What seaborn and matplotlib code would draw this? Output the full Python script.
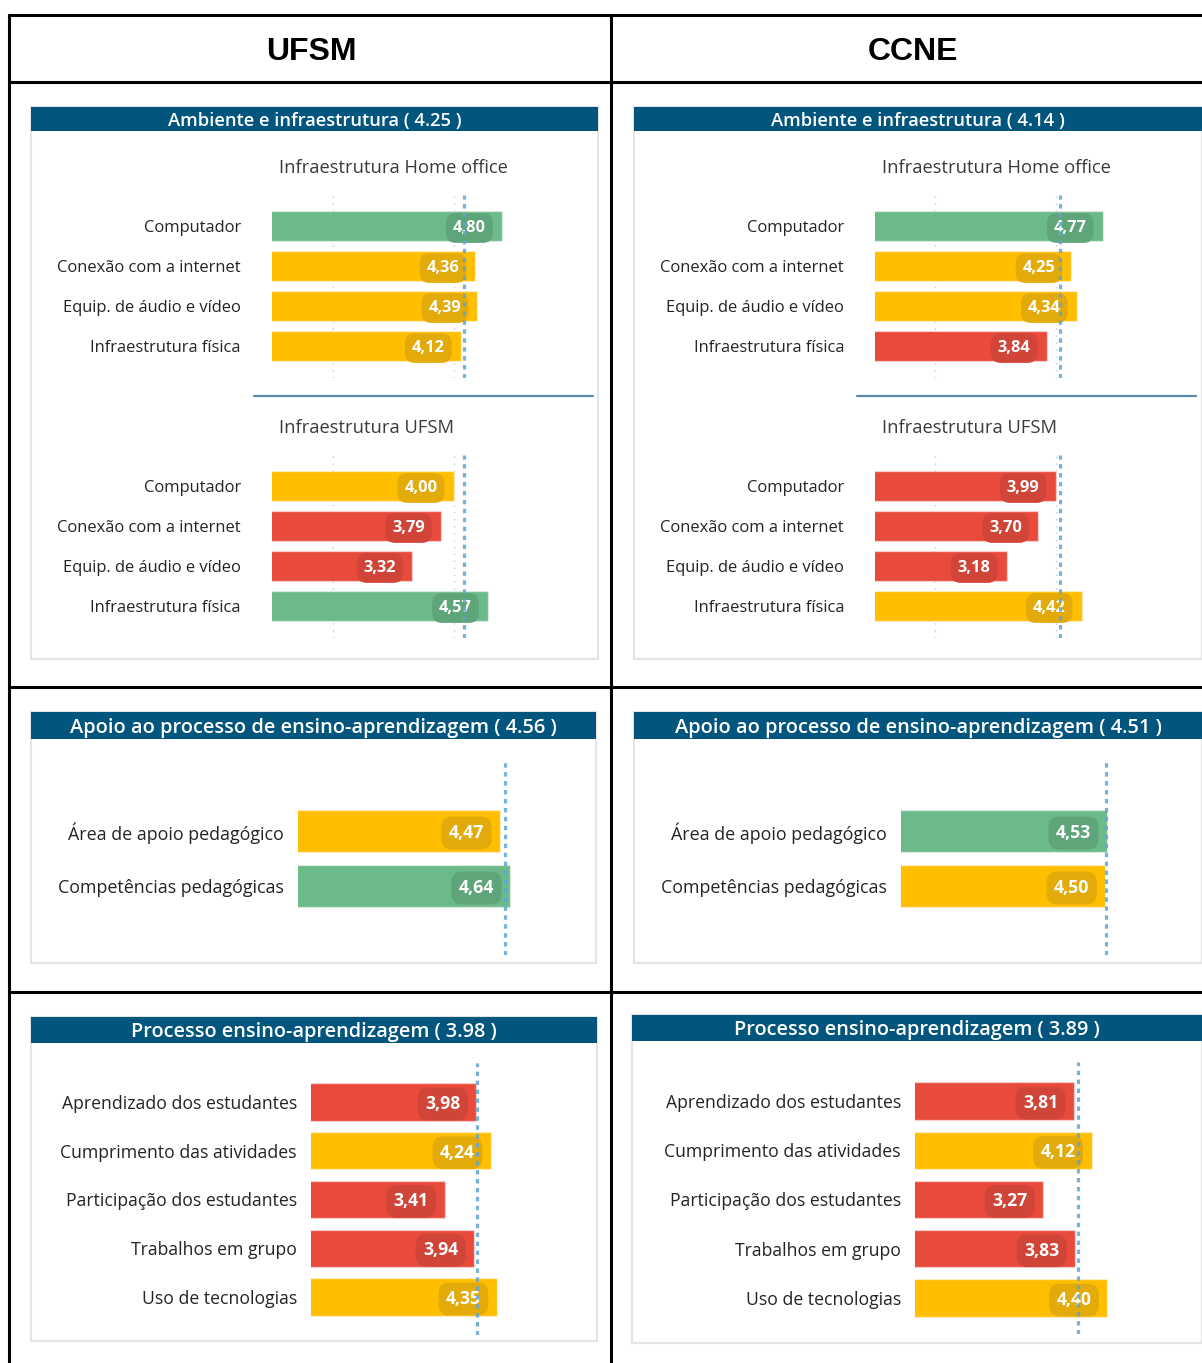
import numpy as np
import matplotlib
matplotlib.use("Agg")
import matplotlib.pyplot as plt
from matplotlib.patches import Rectangle
from matplotlib.lines import Line2D
import seaborn as sns

sns.set_theme(style="white")
plt.rcParams["font.family"] = ["Open Sans", "DejaVu Sans"]

# ---- data ----
columns = ["UFSM", "CCNE"]

home_labels = ["Computador", "Conexão com a internet", "Equip. de áudio e vídeo", "Infraestrutura física"]
ufsm_home = [4.80, 4.36, 4.39, 4.12]
ufsm_infra = [4.00, 3.79, 3.32, 4.57]
ccne_home = [4.77, 4.25, 4.34, 3.84]
ccne_infra = [3.99, 3.70, 3.18, 4.42]

apoio_labels = ["Área de apoio pedagógico", "Competências pedagógicas"]
ufsm_apoio = [4.47, 4.64]
ccne_apoio = [4.53, 4.50]

proc_labels = ["Aprendizado dos estudantes", "Cumprimento das atividades",
               "Participação dos estudantes", "Trabalhos em grupo", "Uso de tecnologias"]
ufsm_proc = [3.98, 4.24, 3.41, 3.94, 4.35]
ccne_proc = [3.81, 4.12, 3.27, 3.83, 4.40]

section_names = ["Ambiente e infraestrutura", "Apoio ao processo de ensino-aprendizagem",
                 "Processo ensino-aprendizagem"]
ufsm_scores = [4.25, 4.56, 3.98]
ccne_scores = [4.14, 4.51, 3.89]
sub_titles = ["Infraestrutura Home office", "Infraestrutura UFSM"]

GREEN, YELLOW, RED = "#6cba8a", "#ffbf00", "#e84b3c"
DARK = {GREEN: "#5ea57a", YELLOW: "#e3ab0a", RED: "#d14538"}
NAVY = "#02567e"
DASH = "#5fa6d2"

W, H = 1202, 1363
fig = plt.figure(figsize=(W / 100, H / 100), dpi=100)


def pick(v):
    if v > 4.5:
        return GREEN
    if v >= 4.0:
        return YELLOW
    return RED


def ax_px(left, top, width, height):
    ax = fig.add_axes([left / W, 1 - (top + height) / H, width / W, height / H])
    ax.set_facecolor("none")
    return ax


def panel(x0, y0, x1, y1, bar_h, title, fs):
    fig.add_artist(Rectangle((x0 / W, 1 - y1 / H), (x1 - x0) / W, (y1 - y0) / H,
                             transform=fig.transFigure, fc="white", ec="#e2e4e6",
                             lw=1.5, zorder=-2))
    fig.add_artist(Rectangle((x0 / W, 1 - (y0 + bar_h) / H), (x1 - x0) / W, bar_h / H,
                             transform=fig.transFigure, fc=NAVY, ec="none", zorder=-1))
    fig.text((x0 + x1) / 2 / W, 1 - (y0 + bar_h / 2 + 2) / H, title, color="white",
             fontsize=fs, fontweight="semibold", ha="center", va="center")


def bars(left, first, step, n, top, bottom, right, scale, labels, values, mean,
         lab_fs, val_fs, pad, grid=True):
    ax = ax_px(left, top, right - left, bottom - top)
    colors = [pick(v) for v in values]
    sns.barplot(x=values, y=labels, hue=labels, palette=colors, legend=False,
                orient="h", width=0.76, saturation=1, ax=ax,
                linewidth=1, edgecolor=(1, 1, 1, 0.45))
    ax.set_xlim(1, 1 + (right - left) / scale)
    ax.set_ylim((bottom - first) / step, (top - first) / step)
    if grid:
        for g in (2, 4):
            ax.axvline(g, color="#c9c9c9", ls=(0, (1, 4)), lw=1, zorder=0)
    for i, v in enumerate(values):
        ax.annotate(f"{v:.2f}".replace(".", ","), xy=(v, i), xytext=(-16, -2),
                    textcoords="offset pixels", ha="right", va="center",
                    color="white", fontsize=val_fs, fontweight="bold", zorder=4,
                    bbox=dict(boxstyle="round,pad=0.42,rounding_size=0.6",
                              fc=DARK[colors[i]], ec="none"))
    ax.axvline(mean, color=DASH, ls=(0, (1.4, 1.4)), lw=2.3, alpha=0.85, zorder=5)
    ax.set_xlabel("")
    ax.set_ylabel("")
    ax.set_xticks([])
    ax.tick_params(axis="y", length=0, pad=pad * 0.72, labelsize=lab_fs,
                   labelcolor="#252423")
    sns.despine(ax=ax, left=True, bottom=True)
    return ax


# ---- table grid ----
for x in (9, 611):
    fig.add_artist(Line2D([x / W, x / W], [1 - 15 / H, 0], color="black", lw=2.2,
                          transform=fig.transFigure))
for y in (15, 82, 687, 992):
    fig.add_artist(Line2D([9 / W, 1], [1 - y / H, 1 - y / H], color="black", lw=2.2,
                          transform=fig.transFigure))
for cx, name in zip((311, 913), columns):
    fig.text(cx / W, 1 - 52 / H, name, fontsize=23, fontweight="bold",
             family="Liberation Sans", ha="center", va="center", color="black")

# ---- panels per column ----
cols = [
    dict(home=ufsm_home, infra=ufsm_infra, apoio=ufsm_apoio, proc=ufsm_proc, scores=ufsm_scores,
         p1=(31, 107, 598, 659), l1=272, s1=60.5, r1=593, div=(254, 593),
         p2=(31, 712, 596, 963), l2=298, s2=58.3, r2=590,
         p3=(31, 1017, 597, 1341), l3=311, s3=55.5, r3=590, t3=1063, f3=1102, st3=48.75),
    dict(home=ccne_home, infra=ccne_infra, apoio=ccne_apoio, proc=ccne_proc, scores=ccne_scores,
         p1=(634, 107, 1202, 659), l1=875, s1=60.4, r1=1196, div=(857, 1196),
         p2=(634, 712, 1202, 963), l2=901, s2=58.4, r2=1196,
         p3=(632, 1015, 1202, 1343), l3=915, s3=56.6, r3=1196, t3=1062, f3=1101, st3=49.25),
]

for c in cols:
    # Ambiente e infraestrutura
    x0, y0, x1, y1 = c["p1"]
    panel(x0, y0, x1, y1, 24, f"{section_names[0]} ( {c['scores'][0]:.2f} )", 13.2)
    mean1 = np.mean(c["home"] + c["infra"])
    bars(c["l1"], 226, 40, 4, 195, 378, c["r1"], c["s1"], home_labels, c["home"], mean1,
         11.9, 11.8, 31)
    bars(c["l1"], 486, 40, 4, 455, 638, c["r1"], c["s1"], home_labels, c["infra"], mean1,
         11.9, 11.8, 31)
    fig.text((c["l1"] + 7) / W, 1 - 168 / H, sub_titles[0], fontsize=13.2,
             color="#3a3a3a", ha="left", va="center")
    fig.text((c["l1"] + 7) / W, 1 - 428 / H, sub_titles[1], fontsize=13.2,
             color="#3a3a3a", ha="left", va="center")
    d0, d1 = c["div"]
    fig.add_artist(Line2D([d0 / W, d1 / W], [1 - 396 / H, 1 - 396 / H], color="#5a89b0",
                          lw=1.6, transform=fig.transFigure))

    # Apoio ao processo
    x0, y0, x1, y1 = c["p2"]
    panel(x0, y0, x1, y1, 27, f"{section_names[1]} ( {c['scores'][1]:.2f} )", 14.4)
    bars(c["l2"], 831, 55, 2, 760, 955, c["r2"], c["s2"], apoio_labels, c["apoio"],
         np.mean(c["apoio"]), 12.9, 12.8, 14, grid=False)

    # Processo ensino-aprendizagem
    x0, y0, x1, y1 = c["p3"]
    panel(x0, y0, x1, y1, 26, f"{section_names[2]} ( {c['scores'][2]:.2f} )", 14.3)
    bars(c["l3"], c["f3"], c["st3"], 5, c["t3"], c["t3"] + 272, c["r3"], c["s3"],
         proc_labels, c["proc"], np.mean(c["proc"]), 12.7, 12.6, 14, grid=False)

fig.savefig("out.png", dpi=100, facecolor="white")
